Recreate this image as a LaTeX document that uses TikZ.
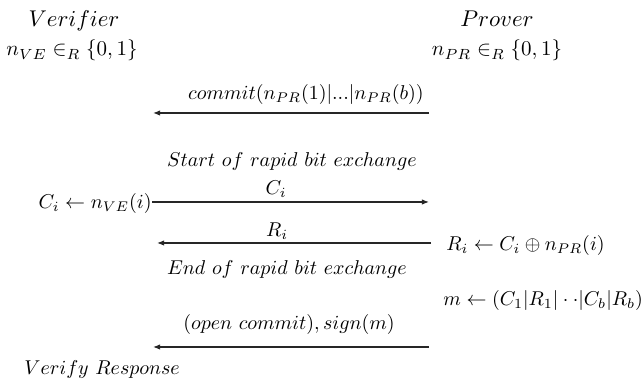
\documentclass[tikz,border=0pt]{standalone}
\usetikzlibrary{arrows.meta}
\begin{document}
\begin{tikzpicture}[x=0.5pt,y=-0.5pt,
  lbl/.style={inner sep=0pt, anchor=base},
  head/.style={lbl, scale=1.14},
  msg/.style={-{Latex[length=3.6pt,width=2.8pt]}, line width=0.6pt, draw=black!85}]
\useasboundingbox (0,0) rectangle (641,383);
% headers
\node[head] (ver) at (74,27) {$Verifier$};
\node[head] (prv) at (497,27) {$Prover$};
\node[lbl, scale=1.05] (nve) at (72,56) {$n_{VE} \in_R \{0,1\}$};
\node[lbl, scale=1.05] (npr) at (497,56) {$n_{PR} \in_R \{0,1\}$};
% commit
\coordinate (c1r) at (429,113);
\coordinate (c1l) at (153,113);
\draw[msg] (c1r) -- (c1l);
\node[lbl] (commitlbl) at (306,100) {$commit(n_{PR}(1)|...|n_{PR}(b))$};
% start
\node[lbl] (start) at (292,167) {$Start\ of\ rapid\ bit\ exchange$};
% C_i
\node[inner sep=0pt, anchor=base east] (cil) at (152,209) {$C_i \leftarrow n_{VE}(i)$};
\coordinate (cir) at (429,202);
\draw[msg] (cil.east |- cir) -- (cir);
\node[lbl] (cilbl) at (276,195) {$C_i$};
% R_i
\coordinate (rir) at (431,243);
\coordinate (ril) at (157,243);
\draw[msg] (rir) -- (ril);
\node[lbl] (rilbl) at (277,237) {$R_i$};
\node[inner sep=0pt, anchor=base west] (rit) at (446,251) {$R_i \leftarrow C_i \oplus n_{PR}(i)$};
% end
\node[lbl] (endx) at (287,275) {$End\ of\ rapid\ bit\ exchange$};
% m
\node[inner sep=0pt, anchor=base west] (mt) at (443,306) {$m \leftarrow (C_1|R_1|\cdot\cdot|C_b|R_b)$};
\coordinate (orr) at (429,347);
\coordinate (orl) at (153,347);
\draw[msg] (orr) -- (orl);
\node[lbl] (openlbl) at (289,330) {$(open\ commit), sign(m)$};
% verify
\node[inner sep=0pt, anchor=base west] (vr) at (24,375) {$Verify\ Response$};
\end{tikzpicture}
\end{document}
